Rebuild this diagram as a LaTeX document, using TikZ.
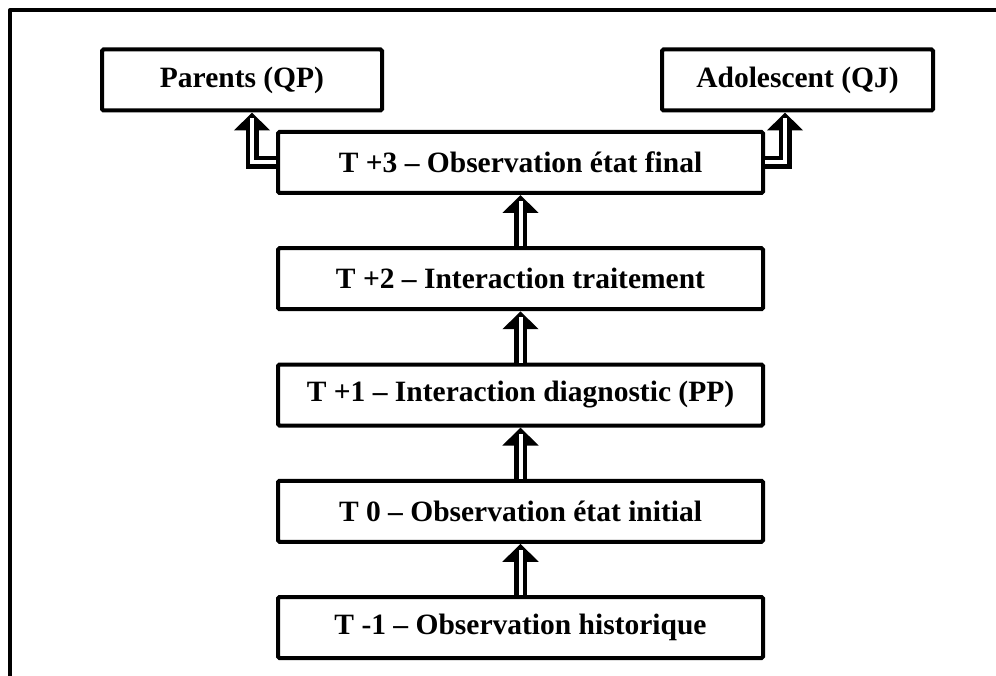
\documentclass[tikz,border=0pt]{standalone}
\usepackage{fontspec}
\setmainfont{Liberation Serif}
\usetikzlibrary{positioning,arrows.meta}
\tikzset{
  stepbox/.style={draw, line width=4pt, rounded corners=1.5pt, minimum width=485pt, minimum height=61pt, inner sep=0pt, font=\fontsize{29.5}{34}\selectfont\bfseries},
  dblarrow/.style={double, double distance=4pt, line width=4.5pt, -{Triangle[width=35pt,length=18pt]},
    postaction={draw=white, line width=4pt, -, shorten >=6pt}},
}
\begin{document}
\begin{tikzpicture}[x=1pt, y=1pt, node distance=116.25pt]
  \useasboundingbox (0,0) rectangle (996,-676);
  \draw[line width=4pt, line join=round] (10,-690) -- (10,-10) -- (1010,-10);
  \node[stepbox] (t3) at (520.5,-162.5) {T +3 -- Observation état final};
  \node[stepbox, below of=t3] (t2) {T +2 -- Interaction traitement};
  \node[stepbox, below of=t2] (t1) {T +1 -- Interaction diagnostic (PP)};
  \node[stepbox, below of=t1] (t0) {T 0 -- Observation état initial};
  \node[stepbox, below of=t0] (tm1) {T -1 -- Observation historique};
  \node[stepbox, minimum width=280pt] (qp) at (242,-80) {Parents (QP)};
  \node[stepbox, minimum width=271pt] (qj) at (797.5,-80) {Adolescent (QJ)};
  \draw[dblarrow] (tm1) -- (t0);
  \draw[dblarrow] (t0) -- (t1);
  \draw[dblarrow] (t1) -- (t2);
  \draw[dblarrow] (t2) -- (t3);
  \draw[dblarrow] (t3.west) -| ([xshift=10pt]qp.south);
  \draw[dblarrow] (t3.east) -| ([xshift=-12.5pt]qj.south);
\end{tikzpicture}
\end{document}
